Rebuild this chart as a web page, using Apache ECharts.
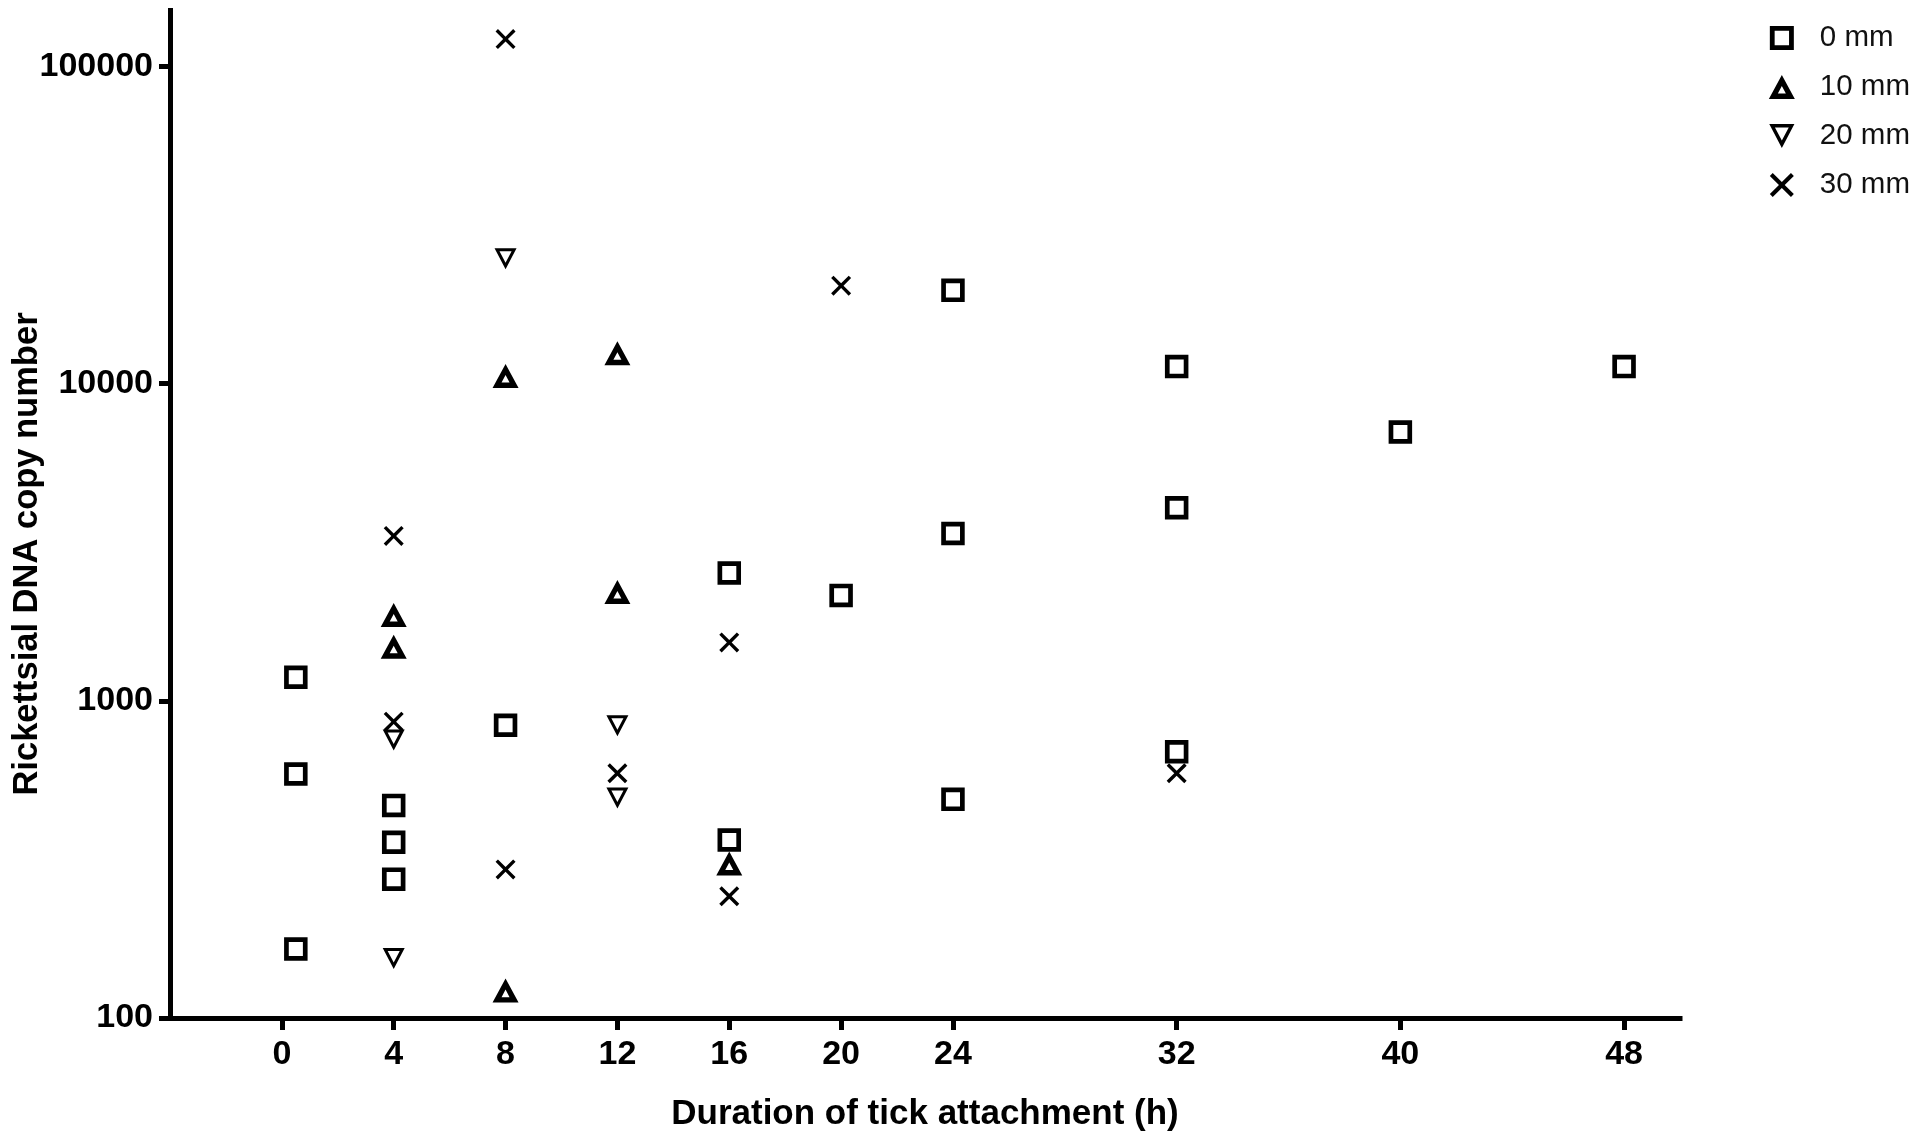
<!DOCTYPE html>
<html>
<head>
<meta charset="utf-8">
<script src="https://cdn.jsdelivr.net/npm/echarts@6/dist/echarts.min.js"></script>
<style>
html,body{margin:0;padding:0;background:#fff;}
#chart{width:1920px;height:1138px;}
</style>
</head>
<body>
<div id="chart"></div>
<script>
// ---- data ----
const seriesNames = ['0 mm', '10 mm', '20 mm', '30 mm'];

const hours0mm  = [0.5, 0.5, 0.5, 4, 4, 4, 8, 16, 16, 20, 24, 24, 24, 32, 32, 32, 40, 48];
const copies0mm = [1186, 588, 165, 468, 358, 274, 837, 2528, 364, 2149, 19670, 3369, 489, 11310, 4062, 691, 7037, 11310];

const hours10mm  = [4, 4, 8, 8, 12, 12, 16];
const copies10mm = [1864, 1481, 10570, 122, 12460, 2203, 307];

const hours20mm  = [4, 4, 8, 12, 12];
const copies20mm = [752, 154, 24760, 835, 494];

const hours30mm  = [4, 4, 8, 8, 12, 16, 16, 20, 32];
const copies30mm = [3308, 859, 121900, 294, 591, 1527, 242, 20350, 591];

const xTickValues = [0, 4, 8, 12, 16, 20, 24, 32, 40, 48];
const yTickValues = [100, 1000, 10000, 100000];

const xTitle = 'Duration of tick attachment (h)';
const yTitle = 'Rickettsial DNA copy number';

// ---- chart ----
function pairs(xs, ys) { return xs.map((x, i) => [x, ys[i]]); }

const FONT = '"Liberation Sans", Arial, Helvetica, sans-serif';

const symSquare = 'path://M0,0L23.5,0L23.5,23.5L0,23.5ZM4.7,4.7L4.7,18.8L18.8,18.8L18.8,4.7Z';
const symUp = 'path://M13,0L26,24L0,24ZM13,11L9,18.6L17,18.6Z';
const symDown = 'path://M0,0L22,0L11,21ZM4.96,3L11,14.53L17.04,3Z';
const symCross = 'path://M0,2.4L2.4,0L10,7.6L17.6,0L20,2.4L12.4,10L20,17.6L17.6,20L10,12.4L2.4,20L0,17.6L7.6,10Z';

const chart = echarts.init(document.getElementById('chart'), null, {renderer: 'canvas'});

const option = {
  backgroundColor: '#ffffff',
  animation: false,
  grid: {left: 170, right: 240, top: 10.5, bottom: 120, containLabel: false},
  legend: {
    orient: 'vertical',
    right: 5,
    top: 18,
    itemWidth: 66,
    itemHeight: 24,
    itemGap: 19,
    symbolKeepAspect: true,
    textStyle: {fontFamily: FONT, fontSize: 29.5, color: '#111'},
    data: seriesNames
  },
  xAxis: {
    type: 'value',
    min: -4,
    max: 50,
    axisLine: {show: true, onZero: false, lineStyle: {color: '#000', width: 5, cap: 'square'}},
    axisTick: {show: true, length: 12, customValues: xTickValues, lineStyle: {color: '#000', width: 5}},
    axisLabel: {
      customValues: xTickValues,
      margin: 20,
      fontFamily: FONT, fontWeight: 'bold', fontSize: 34, color: '#000'
    },
    splitLine: {show: false},
    name: xTitle,
    nameLocation: 'middle',
    nameGap: 79,
    nameTextStyle: {fontFamily: FONT, fontWeight: 'bold', fontSize: 35, color: '#000'}
  },
  yAxis: {
    type: 'log',
    logBase: 10,
    min: 100,
    max: 150000,
    axisLine: {show: true, onZero: false, lineStyle: {color: '#000', width: 5, cap: 'square'}},
    axisTick: {show: true, length: 11, customValues: yTickValues, lineStyle: {color: '#000', width: 5}},
    axisLabel: {
      customValues: yTickValues,
      margin: 17,
      fontFamily: FONT, fontWeight: 'bold', fontSize: 34, color: '#000',
      formatter: v => String(Math.round(v))
    },
    splitLine: {show: false},
    minorTick: {show: false}
  },
  graphic: [{
    type: 'text',
    x: 27,
    y: 554,
    rotation: Math.PI / 2,
    style: {
      text: yTitle,
      font: 'bold 34.5px ' + FONT,
      fill: '#000',
      align: 'center',
      verticalAlign: 'middle'
    }
  }],
  series: [
    {
      name: seriesNames[0], type: 'scatter',
      symbol: symSquare, symbolSize: [23.5, 23.5],
      itemStyle: {color: '#000', borderWidth: 0, opacity: 1},
      data: pairs(hours0mm, copies0mm)
    },
    {
      name: seriesNames[1], type: 'scatter',
      symbol: symUp, symbolSize: [26, 24],
      itemStyle: {color: '#000', borderWidth: 0, opacity: 1},
      data: pairs(hours10mm, copies10mm)
    },
    {
      name: seriesNames[2], type: 'scatter',
      symbol: symDown, symbolSize: [22, 21],
      itemStyle: {color: '#000', borderWidth: 0, opacity: 1},
      data: pairs(hours20mm, copies20mm)
    },
    {
      name: seriesNames[3], type: 'scatter',
      symbol: symCross, symbolSize: [20, 20],
      itemStyle: {color: '#000', borderWidth: 0, opacity: 1},
      data: pairs(hours30mm, copies30mm)
    }
  ]
};

chart.setOption(option);
</script>
</body>
</html>
